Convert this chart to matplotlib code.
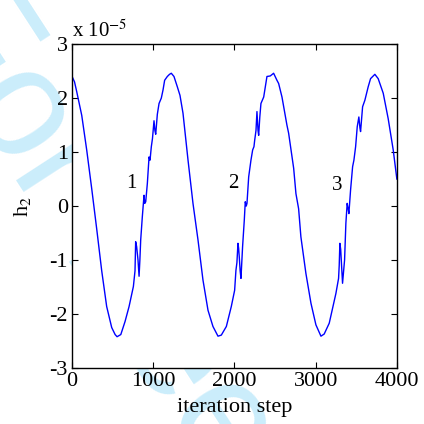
import matplotlib
matplotlib.use("Agg")
import matplotlib.pyplot as plt

# iteration step and h2 (in units of 1e-5)
iteration = [
    0, 30, 57, 119, 180, 242, 303, 365, 426, 488, 530, 554, 600, 652, 702, 755,
    775, 783, 795, 812, 825, 835, 845, 865, 886, 895, 907, 927, 948, 960, 976,
    990, 1009, 1020, 1030, 1050, 1071, 1099, 1120, 1140, 1173, 1200, 1222, 1255,
    1296, 1329, 1366, 1428, 1489, 1551, 1612, 1674, 1735, 1797, 1838, 1900, 1961,
    2002, 2018, 2030, 2043, 2051, 2059, 2070, 2080, 2090, 2100, 2121, 2133, 2145,
    2154, 2175, 2203, 2224, 2240, 2249, 2265, 2277, 2290, 2298, 2312, 2326, 2360,
    2400, 2441, 2482, 2523, 2544, 2585, 2606, 2646, 2667, 2695, 2729, 2757, 2790,
    2818, 2880, 2942, 3003, 3065, 3105, 3167, 3249, 3282, 3290, 3298, 3308, 3319,
    3331, 3345, 3356, 3372, 3388, 3400, 3409, 3430, 3455, 3471, 3492, 3512, 3532,
    3545, 3553, 3578, 3606, 3647, 3676, 3729, 3770, 3832, 3893, 3955, 4000,
]
h2 = [
    2.40, 2.30, 2.12, 1.68, 1.04, 0.32, -0.42, -1.20, -1.86, -2.25, -2.38, -2.42,
    -2.38, -2.14, -1.86, -1.49, -1.20, -0.66, -0.75, -1.00, -1.30, -1.00, -0.63,
    -0.20, 0.20, 0.05, 0.08, 0.42, 0.91, 0.85, 1.10, 1.25, 1.58, 1.40, 1.33, 1.70,
    1.90, 2.00, 2.15, 2.33, 2.40, 2.44, 2.46, 2.40, 2.21, 2.05, 1.72, 0.85, 0.05,
    -0.63, -1.37, -1.93, -2.23, -2.41, -2.39, -2.23, -1.86, -1.56, -1.19, -1.05,
    -0.69, -0.78, -0.94, -1.20, -1.34, -1.05, -0.75, -0.26, 0.08, 0.00, 0.05, 0.54,
    0.85, 1.04, 1.10, 1.22, 1.40, 1.75, 1.40, 1.31, 1.65, 1.90, 2.02, 2.40, 2.41,
    2.46, 2.33, 2.27, 2.02, 1.84, 1.50, 1.35, 1.05, 0.70, 0.23, -0.05, -0.57, -1.25,
    -1.80, -2.20, -2.41, -2.37, -2.17, -1.62, -1.34, -1.10, -0.69, -0.80, -1.12,
    -1.43, -1.20, -1.00, -0.32, 0.05, -0.05, -0.14, 0.30, 0.73, 0.85, 1.10, 1.47,
    1.65, 1.45, 1.38, 1.84, 1.96, 2.21, 2.36, 2.44, 2.36, 2.09, 1.62, 1.04, 0.50,
]

# disturbance markers
marker_text = ["1", "2", "3"]
marker_x = [735, 1990, 3265]
marker_y = [0.42, 0.42, 0.39]

x_ticks = [0, 1000, 2000, 3000, 4000]
x_tick_labels = ["0", "1000", "2000", "3000", "4000"]
y_ticks = [-3, -2, -1, 0, 1, 2, 3]
y_tick_labels = ["-3", "-2", "-1", "0", "1", "2", "3"]

plt.rcParams["font.family"] = ["Liberation Serif", "DejaVu Serif"]
plt.rcParams["mathtext.fontset"] = "stix"

fig = plt.figure(figsize=(4.24, 4.24), dpi=100)
fig.patch.set_facecolor("white")

# background watermark
fig.text(-0.21, 0.955, "For Peer Review", rotation=-57, rotation_mode="anchor",
         ha="left", va="baseline", fontsize=112, color="#cbedfb",
         family="Liberation Sans", zorder=0)

ax = fig.add_axes([0.170, 0.132, 0.766, 0.764])
ax.set_facecolor("white")
ax.set_zorder(1)

ax.plot(iteration, h2, color="#0000ff", linewidth=1.0)

for t, xv, yv in zip(marker_text, marker_x, marker_y):
    ax.text(xv, yv, t, fontsize=15, ha="center", va="center")

ax.set_xlim(0, 4000)
ax.set_ylim(-3, 3)
ax.set_xticks(x_ticks)
ax.set_xticklabels(x_tick_labels)
ax.set_yticks(y_ticks)
ax.set_yticklabels(y_tick_labels)
ax.tick_params(direction="in", length=4, width=0.8, labelsize=16,
               top=True, right=True, pad=3)
for s in ax.spines.values():
    s.set_linewidth(1.0)

ax.set_xlabel("iteration step", fontsize=16, labelpad=5)
ax.set_ylabel("h$_2$", fontsize=16, labelpad=12)
ax.text(0.0, 1.005, "x 10$^{-5}$", transform=ax.transAxes, fontsize=15,
        ha="left", va="bottom")

fig.savefig("out.png", dpi=100)
